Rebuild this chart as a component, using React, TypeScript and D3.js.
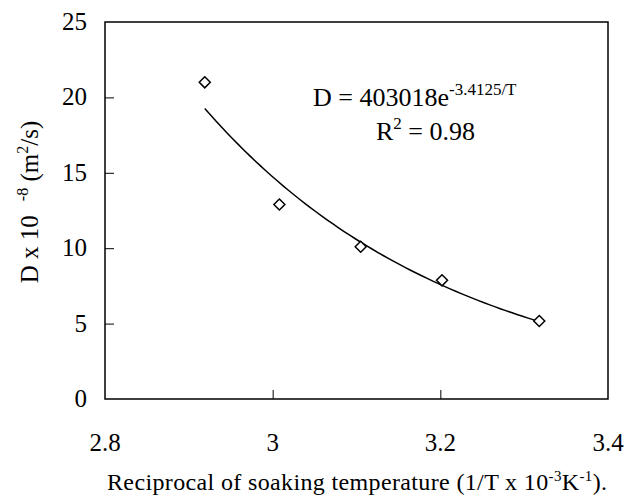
import React, { useEffect, useRef } from 'react';
import * as d3 from 'd3';

// reciprocal temperature (1/T x 10^-3 K^-1) and diffusivity (D x 10^-8 m2/s)
const recipTemp = [2.919, 3.008, 3.105, 3.202, 3.318];
const diffusivity = [21.0, 12.9, 10.1, 7.87, 5.17];
const xTicks = [2.8, 3.0, 3.2, 3.4];
const yTicks = [0, 5, 10, 15, 20, 25];

function App() {
  const ref = useRef<SVGSVGElement>(null);

  useEffect(() => {
    const svg = d3.select(ref.current);
    svg.selectAll('*').remove();

    const width = 642, height = 501;
    const margin = { top: 22, right: 34, bottom: 102, left: 105 };
    const font = '"Liberation Serif", "Times New Roman", serif';

    const x = d3.scaleLinear().domain([2.8, 3.4]).range([margin.left, width - margin.right]);
    const y = d3.scaleLinear().domain([0, 25]).range([height - margin.bottom, margin.top]);

    // frame
    svg.append('rect')
      .attr('x', x(2.8)).attr('y', y(25))
      .attr('width', x(3.4) - x(2.8)).attr('height', y(0) - y(25))
      .attr('fill', 'none').attr('stroke', '#000').attr('stroke-width', 1.5);

    // inward ticks
    svg.append('g')
      .attr('transform', `translate(${x(2.8)},0)`)
      .call(d3.axisRight(y).tickValues(yTicks.slice(1, -1)).tickSize(9).tickFormat(() => ''))
      .call(g => g.select('.domain').remove())
      .call(g => g.selectAll('line').attr('stroke-width', 1));
    svg.append('g')
      .attr('transform', `translate(0,${y(0)})`)
      .call(d3.axisTop(x).tickValues(xTicks.slice(1, -1)).tickSize(9).tickFormat(() => ''))
      .call(g => g.select('.domain').remove())
      .call(g => g.selectAll('line').attr('stroke-width', 1));

    // tick labels
    svg.append('g').selectAll('text').data(yTicks).enter().append('text')
      .attr('x', x(2.8) - 18).attr('y', d => y(d) + 8)
      .attr('text-anchor', 'end').attr('font-family', font).attr('font-size', 25)
      .text(d => d);
    svg.append('g').selectAll('text').data(xTicks).enter().append('text')
      .attr('x', d => x(d)).attr('y', y(0) + 52)
      .attr('text-anchor', 'middle').attr('font-family', font).attr('font-size', 25)
      .text(d => (d === 3 ? '3' : d3.format('.1f')(d)));

    // exponential trendline fitted in log space (as the spreadsheet does)
    const lx = recipTemp, ly = diffusivity.map(Math.log);
    const mx = d3.mean(lx)!, my = d3.mean(ly)!;
    const k = d3.sum(lx, (v, i) => (v - mx) * (ly[i] - my)) / d3.sum(lx, v => (v - mx) ** 2);
    const b = my - k * mx;
    const curve = d3.range(0, 61).map(i => {
      const xv = recipTemp[0] + (i / 60) * (recipTemp[4] - recipTemp[0]);
      return [xv, Math.exp(b + k * xv)] as [number, number];
    });
    svg.append('path')
      .attr('d', d3.line<[number, number]>().x(d => x(d[0])).y(d => y(d[1]))(curve))
      .attr('fill', 'none').attr('stroke', '#000').attr('stroke-width', 1.5);

    // markers
    svg.append('g').selectAll('path').data(recipTemp).enter().append('path')
      .attr('transform', (d, i) => `translate(${x(d)},${y(diffusivity[i])})`)
      .attr('d', 'M0,-5.5L5.5,0L0,5.5L-5.5,0Z')
      .attr('fill', '#fff').attr('stroke', '#000').attr('stroke-width', 1.5);

    // equation
    const eq = svg.append('text').attr('x', 313).attr('y', 106)
      .attr('font-family', font).attr('font-size', 26);
    eq.append('tspan').text('D = 403018e');
    eq.append('tspan').attr('dy', -11).attr('font-size', 17).text('-3.4125/T');
    const r2 = svg.append('text').attr('x', 376).attr('y', 140)
      .attr('font-family', font).attr('font-size', 26);
    r2.append('tspan').text('R');
    r2.append('tspan').attr('dy', -11).attr('font-size', 17).text('2');
    r2.append('tspan').attr('dy', 11).text(' = 0.98');

    // x title
    const xt = svg.append('text').attr('x', 107).attr('y', 490)
      .attr('textLength', 500).attr('lengthAdjust', 'spacing')
      .attr('font-family', font).attr('font-size', 24);
    xt.append('tspan').text('Reciprocal of soaking temperature (1/T x 10');
    xt.append('tspan').attr('dy', -9).attr('font-size', 15).text('-3');
    xt.append('tspan').attr('dy', 9).text('K');
    xt.append('tspan').attr('dy', -9).attr('font-size', 15).text('-1');
    xt.append('tspan').attr('dy', 9).text(').');

    // y title
    const yt = svg.append('text')
      .attr('transform', `translate(38,202) rotate(-90)`)
      .attr('text-anchor', 'middle').attr('font-family', font).attr('font-size', 25);
    yt.append('tspan').text('D x 10');
    yt.append('tspan').attr('dx', 14).attr('dy', -10).attr('font-size', 16).text('-8');
    yt.append('tspan').attr('dy', 10).text(' (m');
    yt.append('tspan').attr('dy', -10).attr('font-size', 16).text('2');
    yt.append('tspan').attr('dy', 10).text('/s)');
  }, []);

  return <svg ref={ref} width={642} height={501} style={{ display: 'block', position: 'absolute', left: 0, top: 0, background: '#fff' }} />;
}

export default App;
